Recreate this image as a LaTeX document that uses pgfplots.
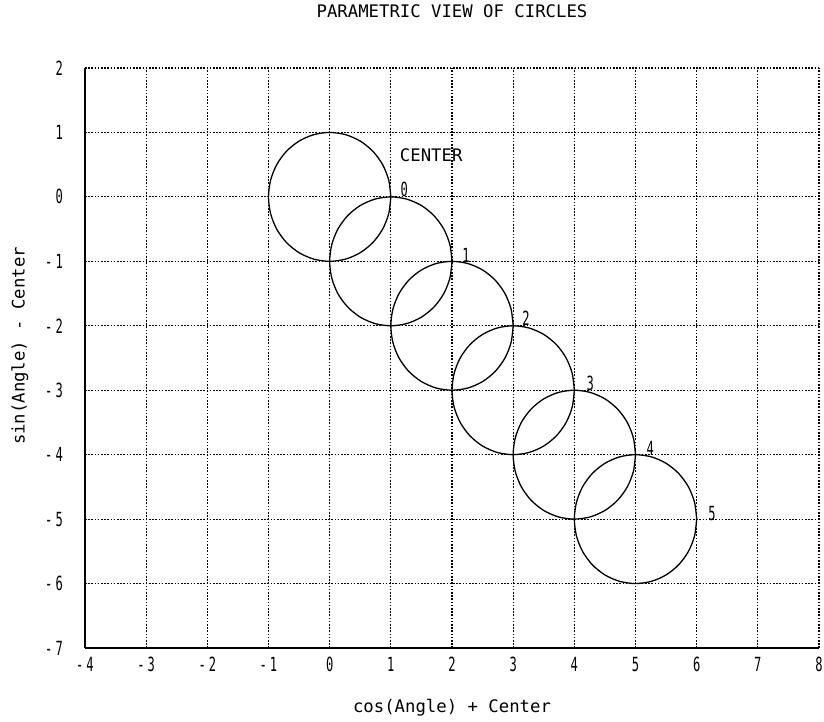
\documentclass[border=0pt]{standalone}
\usepackage{fontspec}
\usepackage{pgfplots}
\usepackage{pgfplotstable}
\pgfplotsset{compat=1.18}
\newfontfamily\plotfont{DejaVu Sans Mono}
\newfontfamily\tickfont[FakeStretch=0.62]{DejaVu Sans Mono}
\newcommand\lblfont{\plotfont\fontsize{17.3}{20}\selectfont}
\newcommand\numfont{\tickfont\fontsize{19.5}{22}\selectfont}
\newcommand\mn[1]{-\hspace{3pt}#1}

% unit circles of radius 1, centres (c,-c) for c = 0..5, sampled every 15 degrees
\pgfplotstableread{
x0 y0 x1 y1 x2 y2 x3 y3 x4 y4 x5 y5
1 0 2 -1 3 -2 4 -3 5 -4 6 -5
0.9659 0.2588 1.9659 -0.7412 2.9659 -1.7412 3.9659 -2.7412 4.9659 -3.7412 5.9659 -4.7412
0.8660 0.5 1.8660 -0.5 2.8660 -1.5 3.8660 -2.5 4.8660 -3.5 5.8660 -4.5
0.7071 0.7071 1.7071 -0.2929 2.7071 -1.2929 3.7071 -2.2929 4.7071 -3.2929 5.7071 -4.2929
0.5 0.8660 1.5 -0.1340 2.5 -1.1340 3.5 -2.1340 4.5 -3.1340 5.5 -4.1340
0.2588 0.9659 1.2588 -0.0341 2.2588 -1.0341 3.2588 -2.0341 4.2588 -3.0341 5.2588 -4.0341
0 1 1 0 2 -1 3 -2 4 -3 5 -4
-0.2588 0.9659 0.7412 -0.0341 1.7412 -1.0341 2.7412 -2.0341 3.7412 -3.0341 4.7412 -4.0341
-0.5 0.8660 0.5 -0.1340 1.5 -1.1340 2.5 -2.1340 3.5 -3.1340 4.5 -4.1340
-0.7071 0.7071 0.2929 -0.2929 1.2929 -1.2929 2.2929 -2.2929 3.2929 -3.2929 4.2929 -4.2929
-0.8660 0.5 0.1340 -0.5 1.1340 -1.5 2.1340 -2.5 3.1340 -3.5 4.1340 -4.5
-0.9659 0.2588 0.0341 -0.7412 1.0341 -1.7412 2.0341 -2.7412 3.0341 -3.7412 4.0341 -4.7412
-1 0 0 -1 1 -2 2 -3 3 -4 4 -5
-0.9659 -0.2588 0.0341 -1.2588 1.0341 -2.2588 2.0341 -3.2588 3.0341 -4.2588 4.0341 -5.2588
-0.8660 -0.5 0.1340 -1.5 1.1340 -2.5 2.1340 -3.5 3.1340 -4.5 4.1340 -5.5
-0.7071 -0.7071 0.2929 -1.7071 1.2929 -2.7071 2.2929 -3.7071 3.2929 -4.7071 4.2929 -5.7071
-0.5 -0.8660 0.5 -1.8660 1.5 -2.8660 2.5 -3.8660 3.5 -4.8660 4.5 -5.8660
-0.2588 -0.9659 0.7412 -1.9659 1.7412 -2.9659 2.7412 -3.9659 3.7412 -4.9659 4.7412 -5.9659
0 -1 1 -2 2 -3 3 -4 4 -5 5 -6
0.2588 -0.9659 1.2588 -1.9659 2.2588 -2.9659 3.2588 -3.9659 4.2588 -4.9659 5.2588 -5.9659
0.5 -0.8660 1.5 -1.8660 2.5 -2.8660 3.5 -3.8660 4.5 -4.8660 5.5 -5.8660
0.7071 -0.7071 1.7071 -1.7071 2.7071 -2.7071 3.7071 -3.7071 4.7071 -4.7071 5.7071 -5.7071
0.8660 -0.5 1.8660 -1.5 2.8660 -2.5 3.8660 -3.5 4.8660 -4.5 5.8660 -5.5
0.9659 -0.2588 1.9659 -1.2588 2.9659 -2.2588 3.9659 -3.2588 4.9659 -4.2588 5.9659 -5.2588
1 0 2 -1 3 -2 4 -3 5 -4 6 -5
}\circles

% centre index labels
\pgfplotstableread{
x y lab
1.22 0.11 0
2.23 -0.90 1
3.21 -1.89 2
4.26 -2.90 3
5.24 -3.91 4
6.25 -4.92 5
}\centres

\begin{document}
\begin{tikzpicture}
\path[use as bounding box] (-85pt,-73pt) rectangle (739pt,648pt);
\begin{axis}[
  scale only axis,
  width=734pt, height=580pt,
  xmin=-4, xmax=8, ymin=-7, ymax=2,
  xtick={-4,-3,...,8},
  ytick={-7,-6,...,2},
  xticklabels={\mn4,\mn3,\mn2,\mn1,0,1,2,3,4,5,6,7,8},
  yticklabels={\mn7,\mn6,\mn5,\mn4,\mn3,\mn2,\mn1,0,1,2},
  axis lines=left,
  axis line style={-, black, line width=1.6pt},
  major tick length=0pt,
  grid=major,
  grid style={black, line width=1.1pt, dash pattern=on 1.6pt off 1.6pt},
  xticklabel style={font=\numfont, anchor=north, inner sep=0pt, yshift=-9pt},
  yticklabel style={font=\numfont, anchor=east, inner sep=0pt, xshift=-22pt},
  title={PARAMETRIC VIEW OF CIRCLES},
  title style={font=\lblfont, at={(axis description cs:0.5,1.0871)}, anchor=center, inner sep=0pt},
  xlabel={cos(Angle) + Center},
  ylabel={sin(Angle) - Center},
  xlabel style={font=\lblfont, at={(axis description cs:0.5,-0.1034)}, anchor=center, inner sep=0pt},
  ylabel style={font=\lblfont, at={(axis description cs:-0.0886,0.5207)}, anchor=center, rotate=0, inner sep=0pt},
  clip=false,
]
\foreach \k in {0,...,5} {
  \addplot[black, line width=1.3pt, smooth, mark=none] table[x=x\k, y=y\k] {\circles};
}
\addplot[draw=none, mark=none, nodes near coords, point meta=explicit symbolic,
  nodes near coords style={font=\numfont, anchor=center, inner sep=0pt}]
  table[x=x, y=y, meta=lab] {\centres};
\node[font=\lblfont, anchor=center, inner sep=0pt] at (axis cs:1.66,0.65) {CENTER};
\end{axis}
\end{tikzpicture}
\end{document}
